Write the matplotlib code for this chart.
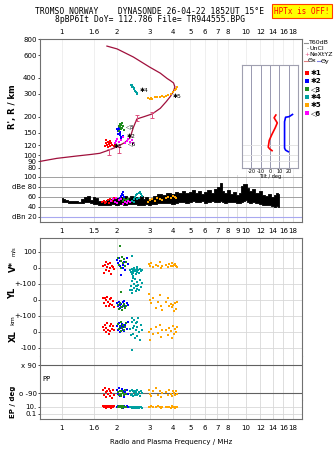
import matplotlib
matplotlib.use("Agg")
import matplotlib.pyplot as plt
from matplotlib.ticker import NullLocator, FixedLocator
from matplotlib.lines import Line2D

W, H = 335, 451

# ---- data ----
freq_ticks = [1, 1.5, 2, 3, 4, 5, 6, 7, 8, 10, 12, 14, 16, 18]
freq_labels = ["1", "1.6", "2", "3", "4", "5", "6", "7", "8", "10", "12", "14", "16", "18"]
freq_ticks_mid = [1, 1.5, 2, 3, 4, 5, 6, 7, 8, 9, 10, 12, 14, 16, 18]
freq_labels_mid = ["1", "1.5", "2", "3", "4", "5", "6", "7", "8", "9", "10", "12", "14", "16", "18"]
height_ticks = [80, 90, 100, 120, 150, 200, 300, 400, 600, 800]

# virtual height trace
prof_f = [0.762, 0.94, 1.2, 1.45, 1.61, 1.8, 2.0, 2.2, 2.35, 2.45, 2.56, 2.8, 3.1, 3.43, 3.7,
          3.9, 4.05, 4.12, 4.05, 3.9, 3.74, 3.43, 3.0, 2.45, 2.0, 1.76]
prof_h = [90, 95, 99, 102, 104, 110, 117, 126, 137, 165, 192, 200, 210, 232, 262,
          288, 315, 340, 365, 380, 395, 435, 485, 580, 670, 705]

# NeXtYZ points
nxt_f = [1.8, 2.05, 2.57, 3.1]
nxt_h = [106, 110, 196, 206]

# tilt inset (deg, km)
tx_deg = [6.3, 4.4, 7.8, 5.6, 1.9, -0.8, -1.9, 0.0, 2.2]
tx_h = [206, 196, 179, 164, 145, 131, 116, 112, 109]
ty_deg = [24.1, 20.4, 16.7, 15.6, 15.6, 15.6, 15.6, 16.7, 19.6]
ty_h = [208, 200, 198, 183, 168, 140, 114, 110, 107]

# amplitude trace (dB)
amp_f = [1.00, 1.03, 1.06, 1.10, 1.15, 1.20, 1.25, 1.30, 1.35, 1.40, 1.45, 1.50, 1.55, 1.60, 1.70,
         1.80, 1.90, 2.00, 2.10, 2.20, 2.30, 2.40, 2.50, 2.60, 2.70, 2.80, 2.90, 3.00, 3.10, 3.20,
         3.40, 3.60, 3.80, 4.00, 4.20, 4.40, 4.60, 4.80, 5.00, 5.20, 5.40, 5.60, 5.80, 6.00, 6.30,
         6.60, 6.90, 7.10, 7.30, 7.50, 7.80, 8.10, 8.40, 8.70, 9.00, 9.30, 9.60, 9.80, 10.0, 10.3,
         10.6, 11.0, 11.5, 12.0, 12.5, 13.0, 13.5, 14.0, 14.5, 14.8, 15.0, 15.2]
amp_lo = [50, 50, 49, 47, 47, 48, 47, 48, 49, 50, 48, 46, 45, 44, 44,
          44, 45, 44, 45, 44, 45, 46, 45, 44, 43, 44, 45, 44, 46, 45,
          47, 48, 47, 46, 48, 50, 49, 48, 50, 52, 49, 50, 51, 48, 50,
          52, 49, 50, 52, 49, 48, 50, 49, 50, 48, 47, 50, 52, 53, 50,
          48, 49, 47, 46, 44, 43, 44, 42, 40, 41, 40, 42]
amp_hi = [57, 56, 53, 52, 51, 52, 50, 56, 60, 62, 54, 60, 58, 52, 50,
          54, 56, 58, 60, 62, 58, 62, 60, 58, 62, 56, 60, 55, 58, 62,
          66, 64, 68, 65, 70, 67, 72, 68, 70, 73, 68, 72, 66, 70, 74,
          68, 75, 79, 87, 72, 68, 74, 66, 70, 64, 68, 82, 86, 85, 78,
          72, 76, 68, 72, 64, 62, 65, 60, 64, 68, 66, 56]
noise_db = 20

# echo sources
src_names = ["\u27311", "\u27312", "\u25c13", "\u27314", "\u27315", "\u25c16"]
src_colors = ["#ff0000", "#0000ff", "#1e8c1e", "#00a0a0", "#ffa500", "#ff00ff"]

# heights of echoes per source
hf_1 = [1.72, 1.74, 1.76, 1.78, 1.80, 1.82, 1.84, 1.86, 1.75, 1.79, 1.83, 1.88, 1.92, 1.95]
hh_1 = [118, 125, 120, 128, 122, 130, 126, 124, 131, 116, 119, 121, 118, 123]
hf_2 = [2.00, 2.02, 2.04, 2.06, 2.08, 2.10, 2.03, 2.07, 2.12, 2.15, 2.05, 2.09]
hh_2 = [160, 155, 158, 150, 145, 140, 148, 152, 138, 142, 163, 135]
hf_3 = [2.04, 2.06, 2.08, 2.10, 2.12, 2.15, 2.18, 2.05, 2.09, 2.13]
hh_3 = [170, 175, 165, 160, 178, 168, 158, 155, 172, 163]
hf_4 = [2.38, 2.40, 2.42, 2.44, 2.46, 2.48, 2.50, 2.52, 2.55, 2.58, 2.41, 2.47]
hh_4 = [355, 345, 350, 338, 330, 325, 318, 312, 305, 300, 340, 335]
hf_5 = [2.95, 3.0, 3.05, 3.1, 3.2, 3.3, 3.4, 3.5, 3.6, 3.7, 3.8, 3.9, 4.0, 4.1, 4.2, 4.25]
hh_5 = [278, 275, 280, 276, 282, 285, 283, 287, 282, 290, 295, 300, 310, 320, 330, 340]
hf_6 = [1.95, 1.98, 2.0, 2.05, 2.1, 2.15, 2.2, 2.25, 2.3, 2.35, 2.4, 2.45]
hh_6 = [125, 130, 135, 128, 132, 138, 125, 130, 135, 128, 133, 126]
src_center_f = [1.92, 2.24, 2.24, 2.64, 4.02, 2.28]
src_center_h = [118, 140, 168, 318, 288, 123]

# amplitudes per source
af_1 = [1.66, 1.70, 1.74, 1.78, 1.82, 1.86, 1.90, 1.93, 1.72, 1.80, 1.88]
ad_1 = [50, 52, 49, 53, 55, 51, 56, 58, 47, 48, 52]
af_2 = [2.08, 2.10, 2.12, 2.14, 2.16, 2.18]
ad_2 = [58, 62, 66, 70, 64, 60]
af_3 = [2.14, 2.17, 2.20, 2.23, 2.26, 2.29]
ad_3 = [52, 56, 50, 54, 48, 55]
af_4 = [2.42, 2.46, 2.50, 2.54, 2.58, 2.62, 2.66, 2.70, 2.74, 2.48, 2.56, 2.64]
ad_4 = [52, 56, 60, 64, 66, 68, 70, 65, 62, 50, 55, 58]
af_5 = [2.95, 3.0, 3.1, 3.2, 3.3, 3.4, 3.5, 3.7, 3.8, 3.9, 4.0, 4.1, 4.2]
ad_5 = [50, 53, 55, 52, 58, 56, 54, 57, 60, 58, 62, 60, 58]
af_6 = [1.85, 1.90, 1.95, 2.00, 2.05, 2.15, 2.20, 2.25, 2.30, 2.35, 1.98, 2.10]
ad_6 = [52, 55, 50, 48, 53, 45, 50, 47, 52, 49, 57, 55]

# velocities (m/s), positions (km), polarization and error per source
f_1 = [1.68, 1.70, 1.72, 1.74, 1.75, 1.77, 1.78, 1.80, 1.82, 1.84, 1.86, 1.88, 1.90, 1.93]
v_1 = [10, -30, 20, 35, -10, 5, 25, -20, 0, 30, -40, 15, 5, -5]
yl_1 = [10, -20, 15, -35, 0, 20, -10, -40, 5, -25, 10, -30, -5, -45]
xl_1 = [30, 10, 45, 0, 25, 55, 15, -10, 35, 5, 50, 20, 40, 10]
pp_1 = [-70, -100, -60, -85, -115, -75, -95, -65, -110, -80, -90, -120, -70, -100]
ep_1 = [15, 8, 20, 12, 6, 18, 10, 25, 9, 14, 7, 22, 11, 16]

f_2 = [2.00, 2.02, 2.04, 2.06, 2.08, 2.10, 2.12, 2.14, 2.16, 2.19, 2.22, 2.25, 2.28]
v_2 = [50, 30, 65, 10, 45, -45, 70, 20, 0, 40, -15, 60, 25]
yl_2 = [-20, -40, -10, -50, -30, -25, -45, -15, -35, -5, -40, -20, -30]
xl_2 = [40, 10, 55, 25, 0, 35, 50, 15, 30, 5, 45, 20, 60]
pp_2 = [-70, -95, -60, -110, -80, -100, -65, -90, -75, -115, -85, -70, -95]
ep_2 = [12, 20, 8, 15, 25, 10, 18, 6, 14, 22, 9, 16, 11]

f_3 = [2.03, 2.05, 2.07, 2.09, 2.10, 2.12, 2.14, 2.17, 2.20, 2.23]
v_3 = [60, 20, 140, 45, 0, 70, 30, 55, 10, 40]
yl_3 = [-30, -55, -20, -45, 50, -60, -35, -25, -50, -40]
xl_3 = [50, 20, 35, 5, 60, 25, 45, 10, 30, 55]
pp_3 = [-85, -100, -75, -95, -110, -80, -90, -105, -70, -95]
ep_3 = [10, 14, 8, 18, 12, 6, 16, 9, 13, 11]

f_4 = [2.36, 2.38, 2.40, 2.42, 2.44, 2.46, 2.48, 2.50, 2.52, 2.54, 2.56, 2.58, 2.60, 2.62,
       2.65, 2.68, 2.72, 2.40, 2.45, 2.55]
v_4 = [-10, -25, 75, -5, -30, -15, 0, -20, -35, -10, -25, 5, -15, -30, -5, -20, -10, -40, -20, -5]
yl_4 = [60, 90, 120, 45, 140, 75, 100, 130, 55, 85, 110, 70, 95, 60, 125, 80, 105, 65, 150, 90]
xl_4 = [20, -20, 60, 90, -10, 40, 75, -40, 10, 55, -25, 30, 85, 0, -50, 45, 15, -110, 25, 65]
pp_4 = [-80, -100, -70, -95, -110, -85, -75, -105, -90, -80, -100, -70, -95, -85, -110, -75,
        -90, -100, -80, -95]
ep_4 = [8, 10, 6, 9, 7, 11, 8, 6, 10, 9, 7, 8, 11, 6, 9, 10, 7, 8, 9, 10]

f_5 = [2.98, 3.02, 3.06, 3.15, 3.25, 3.35, 3.40, 3.45, 3.50, 3.70, 3.78, 3.85, 3.90, 3.95,
       4.00, 4.05, 4.10, 4.18, 4.25]
v_5 = [25, 10, 30, 5, 20, 15, 35, 0, 10, 20, 5, 25, 15, 30, 10, 20, 25, 15, 5]
yl_5 = [40, 0, -20, 15, -50, -10, 30, -35, -60, -15, 10, -40, -25, -45, -30, -70, -20, -55, -10]
xl_5 = [0, -50, 20, -15, 30, -5, 45, -30, 10, 15, -20, 25, 5, -35, 35, -10, 20, 0, 30]
pp_5 = [-70, -95, -110, -80, -60, -100, -75, -115, -90, -85, -100, -70, -95, -110, -80, -90,
        -105, -75, -95]
ep_5 = [12, 9, 14, 10, 8, 15, 11, 7, 13, 10, 12, 8, 6, 14, 9, 11, 7, 10, 12]

heights = [(hf_1, hh_1), (hf_2, hh_2), (hf_3, hh_3), (hf_4, hh_4), (hf_5, hh_5), (hf_6, hh_6)]
amps = [(af_1, ad_1), (af_2, ad_2), (af_3, ad_3), (af_4, ad_4), (af_5, ad_5), (af_6, ad_6)]
lower = [(f_1, v_1, yl_1, xl_1, pp_1, ep_1), (f_2, v_2, yl_2, xl_2, pp_2, ep_2),
         (f_3, v_3, yl_3, xl_3, pp_3, ep_3), (f_4, v_4, yl_4, xl_4, pp_4, ep_4),
         (f_5, v_5, yl_5, xl_5, pp_5, ep_5)]

YL_OFF, XL_OFF = -200, -400

# ---- figure ----
fig = plt.figure(figsize=(W / 100, H / 100), dpi=100)
plt.rcParams["font.family"] = "DejaVu Sans"


def box(x0, y0, x1, y1):
    return [x0 / W, 1 - y1 / H, (x1 - x0) / W, (y1 - y0) / H]


FRAME = "#707070"
GRID = "#d8d8d8"
TS = 5

ax_h = fig.add_axes(box(40, 39, 302, 175))
ax_db = fig.add_axes(box(40, 175, 302, 222))
ax_v = fig.add_axes(box(40, 238, 302, 356))
ax_pp = fig.add_axes(box(40, 356, 302, 400))
ax_ep = fig.add_axes(box(40, 400, 302, 419))

for ax in (ax_h, ax_db, ax_v, ax_pp, ax_ep):
    ax.set_xscale("log")
    ax.set_xlim(0.762, 20.2)
    ax.xaxis.set_minor_locator(NullLocator())
    ax.yaxis.set_minor_locator(NullLocator())
    for s in ax.spines.values():
        s.set_color(FRAME)
        s.set_linewidth(0.8)
    ax.tick_params(labelsize=TS, length=1.5, width=0.5, pad=1, colors="black")
    ax.tick_params(axis="x", length=0)

# top panel: heights
ax_h.set_yscale("log")
ax_h.set_ylim(70.6, 800)
ax_h.yaxis.set_minor_locator(NullLocator())
ax_h.yaxis.set_major_locator(FixedLocator(height_ticks))
ax_h.set_yticklabels([str(t) for t in height_ticks])
ax_h.xaxis.tick_top()
ax_h.set_xticks(freq_ticks)
ax_h.set_xticklabels(freq_labels)
ax_h.tick_params(axis="x", pad=3)
for f in freq_ticks:
    ax_h.axvline(f, color="#ececec", lw=0.6, zorder=0)
ax_h.spines["bottom"].set_visible(False)
ax_h.plot(prof_f, prof_h, color="#a0103c", lw=0.9, zorder=3)
ax_h.errorbar(nxt_f, nxt_h, yerr=[[h * 0.05 for h in nxt_h], [h * 0.05 for h in nxt_h]],
              fmt="none", ecolor="#e05080", elinewidth=0.7, capsize=1.5, capthick=0.7, zorder=4)
for (hf, hh), c in zip(heights, src_colors):
    ax_h.plot(hf, hh, "s", color=c, ms=1.7, mew=0, zorder=5)
for f, h, name in zip(src_center_f, src_center_h, src_names):
    ax_h.text(f, h, name, fontsize=4.3, color="black", ha="left", va="center", zorder=6)
ax_h.set_ylabel("R', R / km", fontsize=6, fontweight="bold", labelpad=4)

# dB panel
ax_db.set_ylim(10, 104)
ax_db.set_yticks([20, 40, 60, 80, 100])
ax_db.set_yticklabels(["dBn 20", "40", "60", "dBe 80", "100"])
ax_db.spines["top"].set_visible(False)
ax_db.set_xticks(freq_ticks_mid)
ax_db.set_xticklabels(freq_labels_mid)
ax_db.tick_params(axis="x", pad=4)
for f in freq_ticks_mid:
    ax_db.axvline(f, color=GRID, lw=0.6, zorder=0)
for d in [40, 60, 80, 100]:
    ax_db.axhline(d, color="#a0a0a0", lw=0.7, zorder=1)
ax_db.axhline(noise_db, color="#a8a8f0", lw=0.8, zorder=1)
ax_db.fill_between(amp_f, amp_lo, amp_hi, color="black", step="mid", lw=0.6,
                   edgecolor="black", zorder=3)
for (af, ad), c in zip(amps, src_colors):
    ax_db.plot(af, ad, "s", color=c, ms=2.0, mew=0, zorder=4)

# tilt inset
ax_t = fig.add_axes(box(242, 65, 298, 168))
ax_t.set_yscale("log")
ax_t.set_ylim(80, 503)
ax_t.set_xlim(-30, 30)
ax_t.yaxis.set_minor_locator(NullLocator())
ax_t.set_yticks([])
ax_t.set_xticks([-20, -10, 0, 10, 20])
ax_t.set_xticklabels(["-20", "-10", "0", "10", "20"])
ax_t.tick_params(labelsize=3.6, length=0, pad=1)
ax_t.set_xlabel("Tilt / deg", fontsize=3.6, labelpad=0)
for s in ax_t.spines.values():
    s.set_color("#a0a0b0")
    s.set_linewidth(0.8)
for d in [-20, -10, 0, 10, 20]:
    ax_t.axvline(d, color="#9898b0", lw=0.7, zorder=0)
for h in [90, 100, 120]:
    ax_t.axhline(h, color="#e0e0e0", lw=0.6, zorder=0)
ax_t.plot(tx_deg, tx_h, color="#ff0000", lw=1.2)
ax_t.plot(ty_deg, ty_h, color="#0000ff", lw=1.2)

# lower panel: V*, YL, XL
ax_v.set_ylim(-550, 187)
vt = [100, 0, -100, -200, -300, -400, -500]
ax_v.set_yticks(vt)
ax_v.set_yticklabels(["100", "0", "+-100", "0", "+-100", "0", "-100"])
ax_v.set_xticks([])
ax_v.spines["bottom"].set_visible(False)
for f in freq_ticks:
    for ax in (ax_v, ax_pp, ax_ep):
        ax.axvline(f, color=GRID, lw=0.6, zorder=0)
for t in vt:
    ax_v.axhline(t, color=GRID, lw=0.6, zorder=0)
for (f, v, yl, xl, pp, ep), c in zip(lower, src_colors):
    ax_v.plot(f, v, "s", color=c, ms=1.7, mew=0)
    ax_v.plot(f, [y + YL_OFF for y in yl], "s", color=c, ms=1.7, mew=0)
    ax_v.plot(f, [x + XL_OFF for x in xl], "s", color=c, ms=1.7, mew=0)
    ax_pp.plot(f, pp, "s", color=c, ms=1.9, mew=0, zorder=3)
    ax_ep.plot(f, ep, "s", color=c, ms=1.9, mew=0, zorder=3)

ax_pp.set_ylim(-135, 148)
ax_pp.set_yticks([90, -90])
ax_pp.set_yticklabels(["x 90", "o -90"])
ax_pp.set_xticks([])
ax_pp.spines["top"].set_visible(False)
ax_pp.spines["bottom"].set_visible(False)
ax_pp.axhline(90, color="#606060", lw=0.8, zorder=1)
ax_pp.axhline(-90, color="#606060", lw=0.8, zorder=1)
ax_pp.text(0.785, 0, "PP", fontsize=TS, ha="left", va="center")

ax_ep.set_yscale("log")
ax_ep.set_ylim(0.0037, 1000)
ax_ep.yaxis.set_minor_locator(NullLocator())
ax_ep.set_yticks([0.1, 10])
ax_ep.set_yticklabels(["0.1", "10."])
ax_ep.spines["top"].set_visible(False)
ax_ep.axhline(10, color=GRID, lw=0.6, zorder=0)
ax_ep.axhline(0.1, color=GRID, lw=0.6, zorder=0)
ax_ep.set_xticks(freq_ticks)
ax_ep.set_xticklabels(freq_labels)
ax_ep.tick_params(axis="x", pad=4)
ax_ep.set_xlabel("Radio and Plasma Frequency / MHz", fontsize=TS, labelpad=6)

# left labels of lower panel
fig.text(13 / W, 1 - 266 / H, "V*", fontsize=6, fontweight="bold", rotation=90, ha="center", va="center")
fig.text(13 / W, 1 - 251 / H, "m/s", fontsize=3.8, rotation=90, ha="center", va="center")
fig.text(13 / W, 1 - 293 / H, "YL", fontsize=6, fontweight="bold", rotation=90, ha="center", va="center")
fig.text(13 / W, 1 - 320 / H, "km", fontsize=4.5, rotation=90, ha="center", va="center")
fig.text(13 / W, 1 - 336 / H, "XL", fontsize=6, fontweight="bold", rotation=90, ha="center", va="center")
fig.text(13 / W, 1 - 402 / H, "EP / deg", fontsize=5, fontweight="bold", rotation=90, ha="center", va="center")

# title block
fig.text(150 / W, 1 - 12 / H, "TROMSO NORWAY    DYNASONDE 26-04-22 1852UT 15\u00b0E",
         family="DejaVu Sans Mono", fontsize=5.8, ha="center", va="center")
fig.text(150 / W, 1 - 20 / H, "8pBP6It DoY= 112.786 File= TR944555.BPG",
         family="DejaVu Sans Mono", fontsize=5.8, ha="center", va="center")
fig.text(302 / W, 1 - 11 / H, "HPTx is OFF!", family="DejaVu Sans Mono", fontsize=5.5,
         color="#ff0000", ha="center", va="center",
         bbox=dict(boxstyle="square,pad=0.3", fc="#ffff00", ec="#ff4000", lw=0.8))

# legend
def fy(y):
    return 1 - y / H

fig.add_artist(Line2D([304 / W, 308 / W], [fy(43)] * 2, color="#909090", lw=0.8))
fig.text(309 / W, fy(43), "T60dB", fontsize=4.5, va="center")
fig.text(306 / W, fy(49), "\u00b7", fontsize=4.5, va="center")
fig.text(309 / W, fy(49), "UnCl", fontsize=4.5, va="center")
fig.text(304 / W, fy(55), "+", fontsize=4.5, va="center", color="#e05080")
fig.text(309 / W, fy(55), "NeXtYZ", fontsize=4.5, va="center")
fig.add_artist(Line2D([304 / W, 308 / W], [fy(61)] * 2, color="#e08080", lw=0.8))
fig.text(308 / W, fy(61), "\u0398x", fontsize=4.5, va="center")
fig.add_artist(Line2D([317 / W, 321 / W], [fy(61)] * 2, color="#8080e0", lw=0.8))
fig.text(321 / W, fy(61), "\u0398y", fontsize=4.5, va="center")
leg_y = [73, 81, 89, 97, 105, 113]
for y, c, name in zip(leg_y, src_colors, src_names):
    fig.add_artist(Line2D([307 / W], [fy(y)], marker="s", ms=2.2, color=c, mew=0))
    fig.text(311 / W, fy(y), name, fontsize=5, va="center", fontweight="bold")

fig.savefig("out.png", dpi=100)
print("done")
